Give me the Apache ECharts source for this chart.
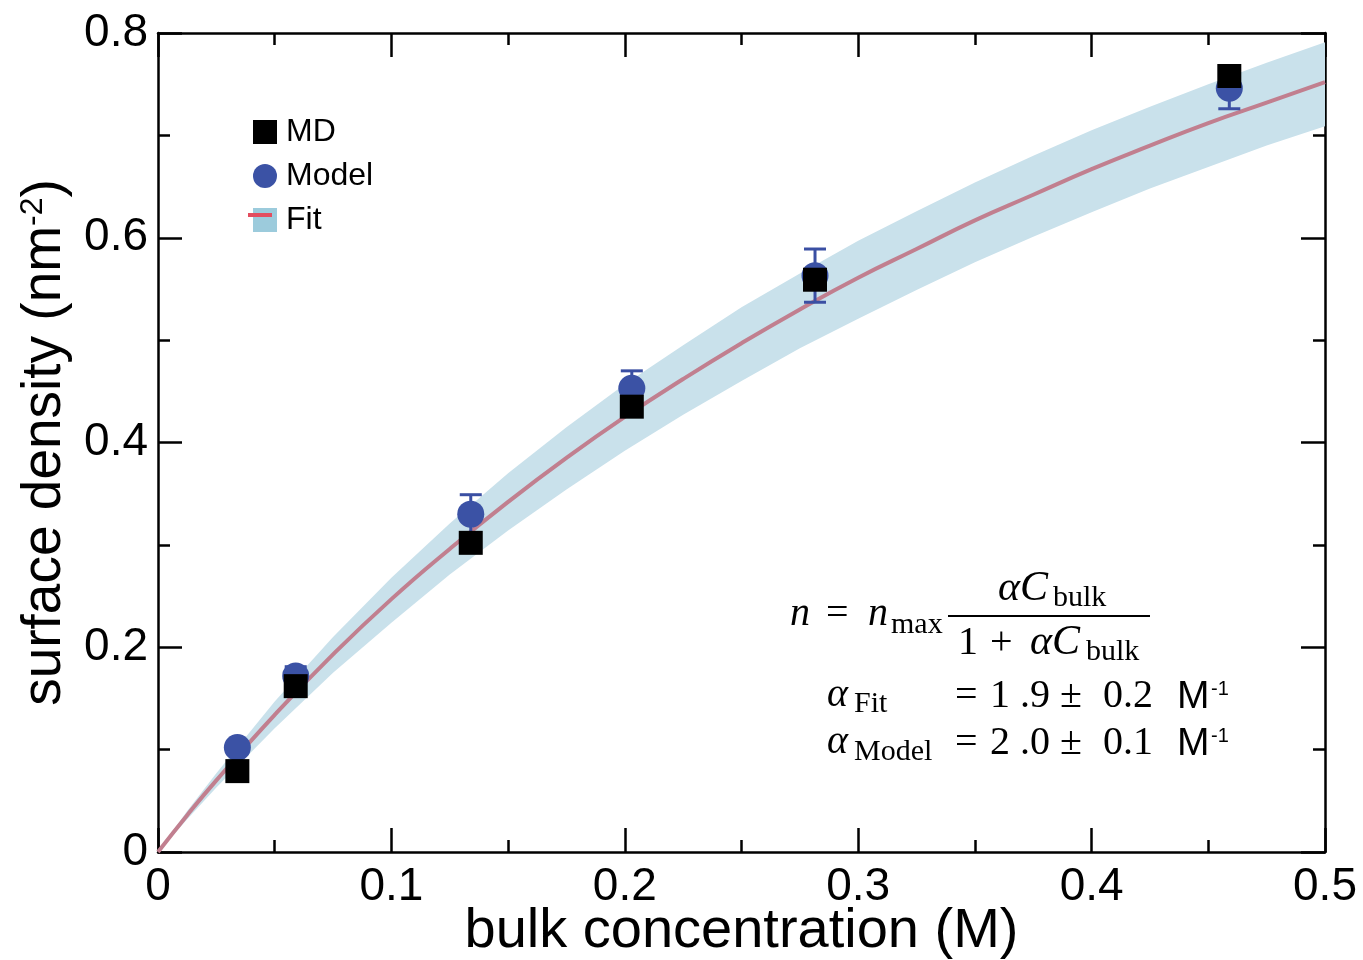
<!DOCTYPE html>
<html><head><meta charset="utf-8">
<script src="https://cdn.jsdelivr.net/npm/echarts@6/dist/echarts.min.js"></script>
<style>html,body{margin:0;padding:0;background:#fff}#c{width:1363px;height:960px}</style>
</head><body><div id="c"></div>
<script>
// ---- data ----
const concX   = [0.034, 0.059, 0.134, 0.203, 0.2815, 0.459];
const mdY     = [0.079, 0.162, 0.302, 0.435, 0.559, 0.758];
const modelY  = [0.102, 0.172, 0.330, 0.453, 0.563, 0.746];
const modelErr= [0.006, 0.009, 0.019, 0.017, 0.026, 0.020];
const fitX  = [0, 0.0125, 0.025, 0.05, 0.075, 0.1, 0.125, 0.15, 0.175, 0.2, 0.225, 0.25, 0.275, 0.3, 0.325, 0.35, 0.375, 0.4, 0.425, 0.45, 0.475, 0.5];
const fitY  = [0, 0.036, 0.070, 0.134, 0.193, 0.247, 0.296, 0.342, 0.385, 0.425, 0.462, 0.497, 0.530, 0.561, 0.589, 0.617, 0.642, 0.667, 0.690, 0.712, 0.732, 0.752];
const fitLo = [0, 0.032, 0.063, 0.121, 0.175, 0.224, 0.271, 0.314, 0.354, 0.392, 0.427, 0.460, 0.492, 0.521, 0.549, 0.576, 0.601, 0.625, 0.648, 0.669, 0.690, 0.709];
const fitHi = [0, 0.040, 0.077, 0.147, 0.210, 0.268, 0.321, 0.370, 0.415, 0.457, 0.495, 0.532, 0.565, 0.597, 0.626, 0.654, 0.680, 0.705, 0.728, 0.750, 0.771, 0.791];
const xTickLabels = ['0', '0.1', '0.2', '0.3', '0.4', '0.5'];
const yTickLabels = ['0', '0.2', '0.4', '0.6', '0.8'];

const SANS = 'Liberation Sans, Arial, sans-serif';
const SERIF = 'Liberation Serif, Times New Roman, serif';
const AX = '#000';

const chart = echarts.init(document.getElementById('c'), null, {renderer: 'canvas'});

const tickCommon = {inside: true, length: 24, lineStyle: {color: AX, width: 2.5}};
const minorCommon = {show: true, splitNumber: 2, length: 12, lineStyle: {color: AX, width: 2.5}};
const lineCommon = {show: true, onZero: false, lineStyle: {color: AX, width: 2.5}};

function t(x, y, text, font, extra) {
  return Object.assign({type: 'text', x: x, y: y, z: 100,
    style: {text: text, font: font, fill: '#000', textAlign: 'left', textVerticalAlign: 'middle'}}, extra || {});
}
const F = '40px ' + SERIF, FI = 'italic 40px ' + SERIF, FS = '30px ' + SERIF;

const bandData = fitX.map((x, i) => [x, fitLo[i], fitHi[i]]);

const option = {
  animation: false,
  backgroundColor: '#fff',
  grid: {left: 158, right: 38, top: 33, bottom: 108, containLabel: false, outerBoundsMode: 'none'},
  legend: {
    orient: 'vertical', left: 248, top: 111,
    itemWidth: 24, itemHeight: 24, itemGap: 12,
    textStyle: {fontFamily: SANS, fontSize: 32, lineHeight: 32, color: '#000', padding: [0, 0, 0, 4]},
    selectedMode: false,
    data: [
      {name: 'MD', icon: 'rect', itemStyle: {color: '#000'}},
      {name: 'Model', icon: 'circle', itemStyle: {color: '#3b52a5'}},
      {name: 'Fit', icon: 'rect', itemStyle: {color: '#9ccbdc', borderWidth: 0}}
    ]
  },
  xAxis: [{
    type: 'value', min: 0, max: 0.5, interval: 0.1, position: 'bottom',
    axisLine: lineCommon, axisTick: tickCommon, minorTick: minorCommon,
    splitLine: {show: false}, minorSplitLine: {show: false},
    axisLabel: {fontFamily: SANS, fontSize: 46, color: '#000', margin: 12,
      formatter: (v) => xTickLabels[Math.round(v * 10)]},
    name: 'bulk concentration (M)', nameLocation: 'middle', nameGap: 52, nameMoveOverlap: false,
    nameTextStyle: {fontFamily: SANS, fontSize: 56, color: '#000'}
  }, {
    type: 'value', min: 0, max: 0.5, interval: 0.1, position: 'top',
    axisLine: lineCommon, axisTick: tickCommon, minorTick: minorCommon,
    splitLine: {show: false}, axisLabel: {show: false}
  }],
  yAxis: [{
    type: 'value', min: 0, max: 0.8, interval: 0.2, position: 'left',
    axisLine: lineCommon, axisTick: tickCommon, minorTick: minorCommon,
    splitLine: {show: false}, minorSplitLine: {show: false},
    axisLabel: {fontFamily: SANS, fontSize: 46, color: '#000', margin: 10,
      formatter: (v) => yTickLabels[Math.round(v * 5)]},
    name: 'surface density (nm{sup|-2})', nameLocation: 'middle', nameGap: 86, nameRotate: 90, nameMoveOverlap: false,
    nameTextStyle: {fontFamily: SANS, fontSize: 55, color: '#000',
      rich: {sup: {fontFamily: SANS, fontSize: 32, color: '#000', verticalAlign: 'top', padding: [0, 0, 22, 0]}}}
  }, {
    type: 'value', min: 0, max: 0.8, interval: 0.2, position: 'right',
    axisLine: lineCommon, axisTick: tickCommon, minorTick: minorCommon,
    splitLine: {show: false}, axisLabel: {show: false}
  }],
  series: [
    {
      name: 'Fit', type: 'custom', z: 1, silent: true,
      itemStyle: {color: '#9ccbdc'},
      renderItem: function (params, api) {
        if (params.dataIndex !== 0) return null;
        const upper = bandData.map(d => api.coord([d[0], d[2]]));
        const lower = bandData.map(d => api.coord([d[0], d[1]])).reverse();
        return {type: 'polygon', shape: {points: upper.concat(lower)},
          style: {fill: '#c9e1eb', stroke: null}};
      },
      data: bandData
    },
    {
      name: 'Fit', type: 'line', smooth: true, symbol: 'none', silent: true, z: 2,
      lineStyle: {color: '#c17f8f', width: 4},
      data: fitX.map((x, i) => [x, fitY[i]])
    },
    {
      type: 'custom', z: 3, silent: true,
      renderItem: function (params, api) {
        const x = api.value(0), y = api.value(1), e = api.value(2);
        const top = api.coord([x, y + e]), bot = api.coord([x, y - e]);
        const w = 11, st = {stroke: '#3a4fa3', lineWidth: 3};
        return {type: 'group', children: [
          {type: 'line', shape: {x1: top[0], y1: top[1], x2: bot[0], y2: bot[1]}, style: st},
          {type: 'line', shape: {x1: top[0] - w, y1: top[1], x2: top[0] + w, y2: top[1]}, style: st},
          {type: 'line', shape: {x1: bot[0] - w, y1: bot[1], x2: bot[0] + w, y2: bot[1]}, style: st}
        ]};
      },
      data: concX.map((x, i) => [x, modelY[i], modelErr[i]])
    },
    {
      name: 'Model', type: 'scatter', symbol: 'circle', symbolSize: 27, z: 4,
      itemStyle: {color: '#3b52a5', opacity: 1},
      data: concX.map((x, i) => [x, modelY[i]])
    },
    {
      name: 'MD', type: 'scatter', symbol: 'rect', symbolSize: 24, z: 5,
      itemStyle: {color: '#000', opacity: 1},
      data: concX.map((x, i) => [x, mdY[i]])
    }
  ],
  graphic: [
    {type: 'line', z: 100, shape: {x1: 248, y1: 215, x2: 272, y2: 215}, style: {stroke: '#e34d5f', lineWidth: 4}},
    t(790, 614, 'n', FI),
    t(826, 614, '=', F),
    t(868, 614, 'n', FI),
    t(891, 625, 'max', FS),
    t(998, 589, 'αC', 'italic 42px ' + SERIF),
    t(1053, 598, 'bulk', FS),
    {type: 'line', z: 100, shape: {x1: 948, y1: 616, x2: 1150, y2: 616}, style: {stroke: '#000', lineWidth: 2}},
    t(958, 643, '1', F),
    t(990, 643, '+', F),
    t(1030, 643, 'αC', 'italic 42px ' + SERIF),
    t(1086, 652, 'bulk', FS),
    t(827, 695, 'α', FI),
    t(854, 704, 'Fit', FS),
    t(955, 696, '=', F),
    t(990, 696, '1', F),
    t(1020, 696, '.9', F),
    t(1060, 696, '±', F),
    t(1103, 696, '0.2', F),
    t(1177, 697, 'M', '39px ' + SANS),
    t(1211, 689, '-1', '20px ' + SANS),
    t(827, 742, 'α', FI),
    t(854, 752, 'Model', FS),
    t(955, 743, '=', F),
    t(990, 743, '2', F),
    t(1020, 743, '.0', F),
    t(1060, 743, '±', F),
    t(1103, 743, '0.1', F),
    t(1177, 744, 'M', '39px ' + SANS),
    t(1211, 736, '-1', '20px ' + SANS)
  ]
};
chart.setOption(option);
</script>
</body></html>
